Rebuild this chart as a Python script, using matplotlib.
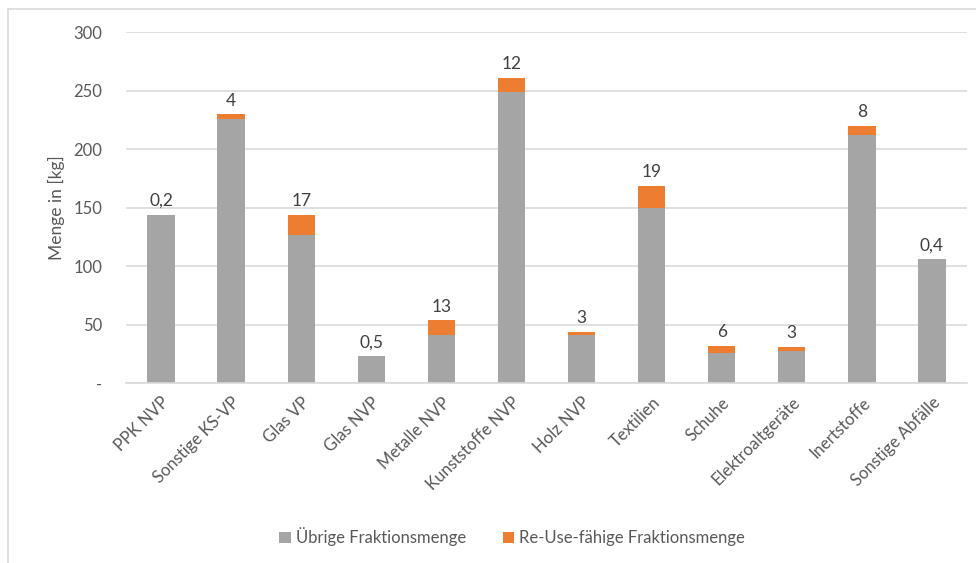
import matplotlib
matplotlib.use("Agg")
import matplotlib.pyplot as plt
from matplotlib.patches import Rectangle
import numpy as np

plt.rcParams["font.family"] = ["Lato", "DejaVu Sans"]

categories = [
    "PPK NVP", "Sonstige KS-VP", "Glas VP", "Glas NVP", "Metalle NVP",
    "Kunststoffe NVP", "Holz NVP", "Textilien", "Schuhe",
    "Elektroaltgeräte", "Inertstoffe", "Sonstige Abfälle",
]
uebrige = [144, 226, 127, 23, 41, 249, 41, 150, 26, 28, 212, 106]
reuse = [0.2, 4, 17, 0.5, 13, 12, 3, 19, 6, 3, 8, 0.4]
reuse_labels = ["0,2", "4", "17", "0,5", "13", "12", "3", "19", "6", "3", "8", "0,4"]
yticks = [0, 50, 100, 150, 200, 250, 300]
ytick_labels = ["-", "50", "100", "150", "200", "250", "300"]

GRAY = "#A5A5A5"
ORANGE = "#ED7D31"
GRID = "#D9D9D9"
TEXT = "#595959"

W, H = 976, 563
fig = plt.figure(figsize=(W / 100, H / 100), dpi=100)

# chart frame (cropped at right and bottom like the screenshot)
fig.patches.append(Rectangle((8 / W, -0.05), 1.05, 1 - 9 / H + 0.05,
                             transform=fig.transFigure, fill=False,
                             edgecolor=GRID, linewidth=1.2))

ax = fig.add_axes([126 / W, 1 - 383.3 / H, (967 - 126) / W, (383.3 - 32.3) / H])

x = np.arange(len(categories))
ax.bar(x, uebrige, width=0.39, color=GRAY, label="Übrige Fraktionsmenge", zorder=2)
ax.bar(x, reuse, width=0.39, bottom=uebrige, color=ORANGE,
       label="Re-Use-fähige Fraktionsmenge", zorder=2)

for xi, b, r, lab in zip(x, uebrige, reuse, reuse_labels):
    ax.annotate(lab, (xi, b + r), xytext=(0, 4), textcoords="offset points",
                ha="center", va="bottom", fontsize=12.5, color="#404040")

ax.set_xlim(-0.5, len(categories) - 0.5)
ax.set_ylim(0, 300)
ax.set_yticks(yticks)
ax.set_yticklabels(ytick_labels)
ax.yaxis.grid(True, color=GRID, linewidth=1.2, zorder=0)
ax.set_axisbelow(True)
for s in ["top", "right", "left"]:
    ax.spines[s].set_visible(False)
ax.spines["bottom"].set_color(GRID)
ax.spines["bottom"].set_linewidth(1.2)
ax.tick_params(axis="both", length=0, colors=TEXT, labelsize=12)
ax.tick_params(axis="y", pad=17)
ax.set_xticks(x)
ax.set_xticklabels(categories, rotation=45, ha="right", rotation_mode="anchor")
ax.tick_params(axis="x", pad=8)
ax.set_ylabel("Menge in [kg]", fontsize=12.5, color=TEXT, labelpad=6)

ax.legend(loc="center", bbox_to_anchor=(512 / W, 1 - 537 / H),
          bbox_transform=fig.transFigure, ncol=2, frameon=False,
          fontsize=12, labelcolor=TEXT, handlelength=0.7, handleheight=0.7,
          handletextpad=0.3, columnspacing=2.2)

fig.savefig("out.png", dpi=100)
